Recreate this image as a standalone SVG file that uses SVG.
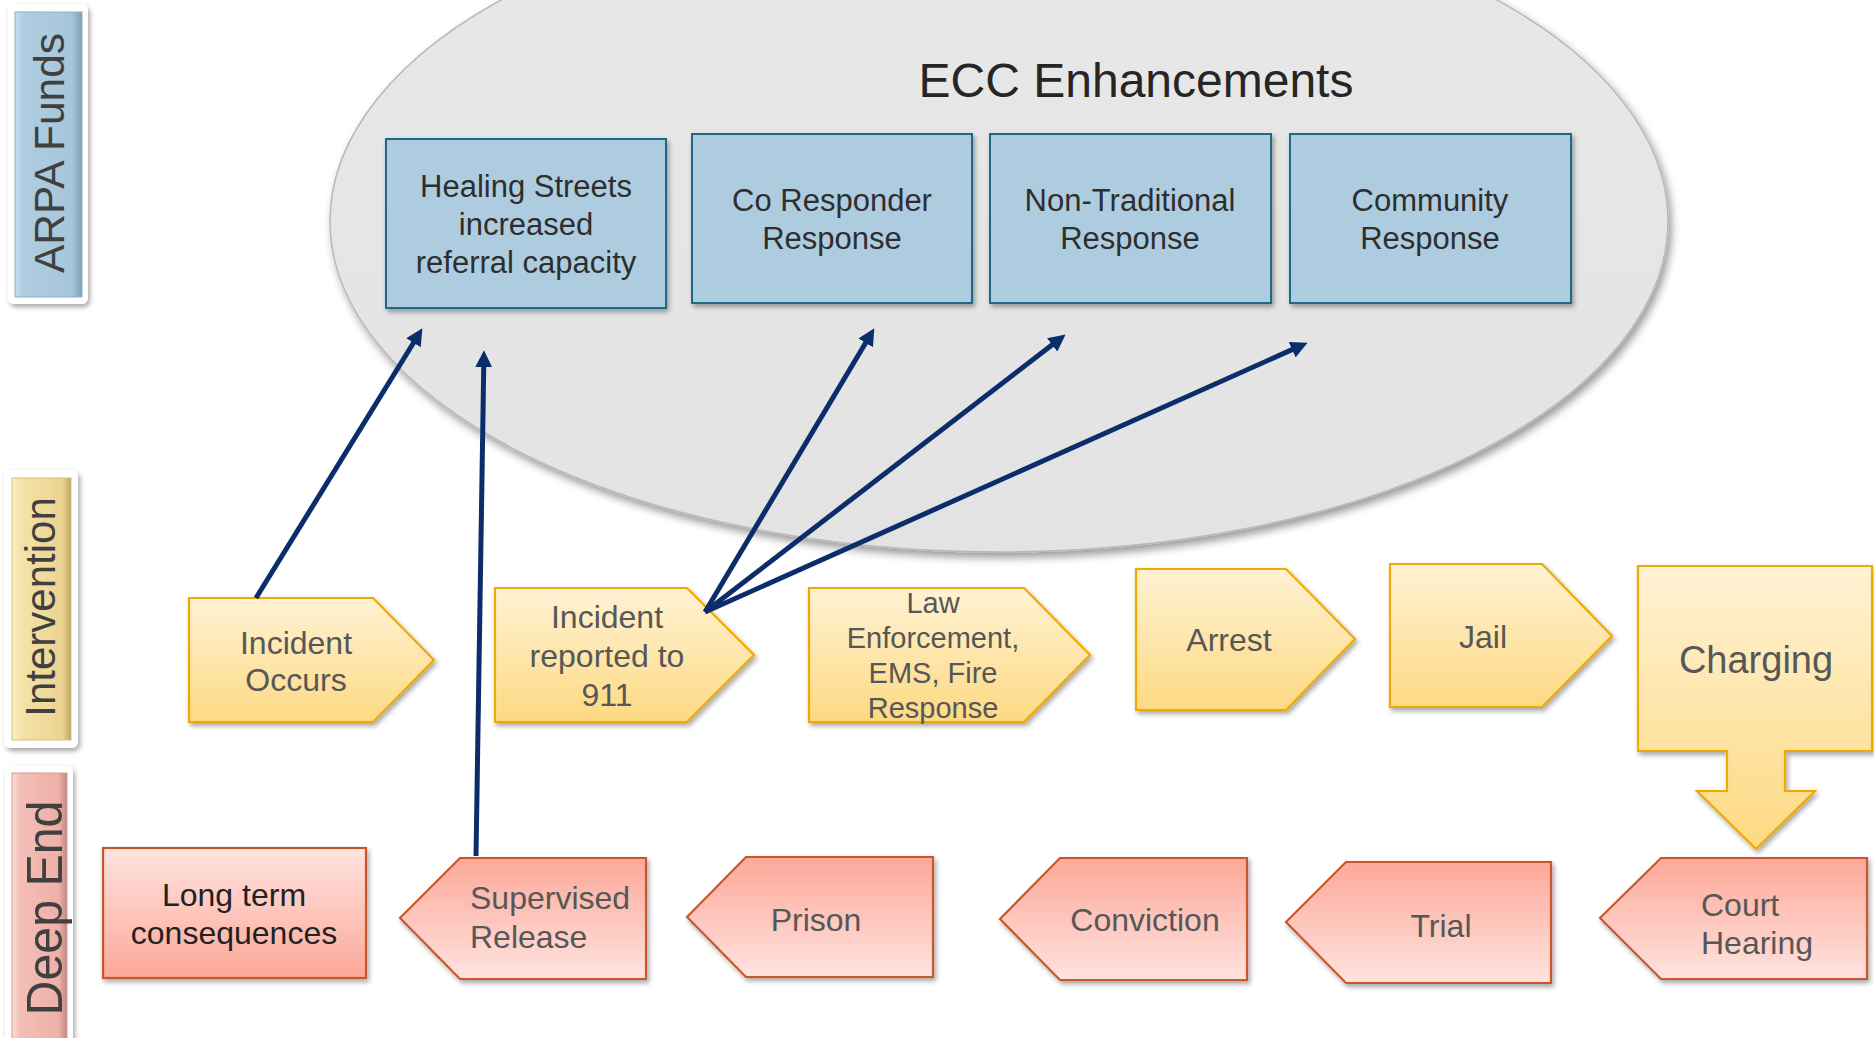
<svg xmlns="http://www.w3.org/2000/svg" width="1874" height="1038" viewBox="0 0 1874 1038">
<defs>
  <filter id="sh" x="-10%" y="-10%" width="130%" height="130%">
    <feDropShadow dx="2" dy="3" stdDeviation="2.5" flood-color="#000" flood-opacity="0.35"/>
  </filter>
  <filter id="shE" x="-5%" y="-5%" width="112%" height="120%">
    <feDropShadow dx="3" dy="5" stdDeviation="4" flood-color="#000" flood-opacity="0.4"/>
  </filter>
  <linearGradient id="gY" x1="0" y1="0" x2="0" y2="1">
    <stop offset="0" stop-color="#fff2d4"/>
    <stop offset="1" stop-color="#fdd982"/>
  </linearGradient>
  <linearGradient id="gRup" x1="0" y1="0" x2="0" y2="1">
    <stop offset="0" stop-color="#fca899"/>
    <stop offset="1" stop-color="#ffe3df"/>
  </linearGradient>
  <linearGradient id="gRdn" x1="0" y1="0" x2="0" y2="1">
    <stop offset="0" stop-color="#ffe3df"/>
    <stop offset="1" stop-color="#fca899"/>
  </linearGradient>
  <linearGradient id="gEll" x1="0" y1="0" x2="0" y2="1">
    <stop offset="0" stop-color="#e8e8e8"/>
    <stop offset="1" stop-color="#e3e3e3"/>
  </linearGradient>
  <linearGradient id="bB" x1="0" y1="0" x2="1" y2="0">
    <stop offset="0" stop-color="#c6e0f0"/>
    <stop offset="0.12" stop-color="#aecde0"/>
    <stop offset="0.85" stop-color="#a7c6da"/>
    <stop offset="1" stop-color="#7c9fb4"/>
  </linearGradient>
  <linearGradient id="bY" x1="0" y1="0" x2="1" y2="0">
    <stop offset="0" stop-color="#fbefc6"/>
    <stop offset="0.15" stop-color="#f5e2a6"/>
    <stop offset="0.85" stop-color="#ecd492"/>
    <stop offset="1" stop-color="#bfa465"/>
  </linearGradient>
  <linearGradient id="bR" x1="0" y1="0" x2="1" y2="0">
    <stop offset="0" stop-color="#fbdcd7"/>
    <stop offset="0.15" stop-color="#f4bfb7"/>
    <stop offset="0.85" stop-color="#eeb0a8"/>
    <stop offset="1" stop-color="#c28680"/>
  </linearGradient>
  <marker id="ah" viewBox="0 0 16 16" markerWidth="17" markerHeight="17" markerUnits="userSpaceOnUse" refX="4" refY="8" orient="auto">
    <path d="M0,0 L16,8 L0,16 Z" fill="#0b2e6b"/>
  </marker>
  <style>
    text { font-family: "Liberation Sans", Arial, sans-serif; }
    .lane-out { fill: #ffffff; filter: url(#sh); }
    .lane-txt { font-size: 42px; fill: #404040; text-anchor: middle; }
    .blue { fill: #aecce0; stroke: #1a6a86; stroke-width: 2; filter: url(#sh); }
    .btxt { font-size: 31px; fill: #2e2e2e; text-anchor: middle; }
    .yel { fill: url(#gY); stroke: #f0a900; stroke-width: 2.2; filter: url(#sh); }
    .ytxt { font-size: 32px; fill: #575757; text-anchor: middle; }
    .red-l { fill: url(#gRup); stroke: #c8582a; stroke-width: 2.2; filter: url(#sh); }
    .red-r { fill: url(#gRdn); stroke: #c8582a; stroke-width: 2.2; filter: url(#sh); }
    .rtxt { font-size: 32px; fill: #575757; }
    .conn line { stroke: #0b2e6b; stroke-width: 5; marker-end: url(#ah); }
  </style>
</defs>
<rect width="1874" height="1038" fill="#ffffff"/>

<!-- Lane labels -->
<g id="lane-arpa">
  <rect class="lane-out" x="8" y="4" width="80" height="300" rx="6"/>
  <rect x="15" y="12" width="67" height="285" fill="url(#bB)" stroke="#8fb0c4" stroke-width="1"/>
  <text class="lane-txt" transform="translate(64,153) rotate(-90)" textLength="240" lengthAdjust="spacingAndGlyphs" style="font-size:43px">ARPA Funds</text>
</g>
<g id="lane-intervention">
  <rect class="lane-out" x="4" y="470" width="74" height="278" rx="6"/>
  <rect x="12" y="478" width="59" height="262" fill="url(#bY)" stroke="#d6be7e" stroke-width="1"/>
  <text class="lane-txt" transform="translate(55,607) rotate(-90)">Intervention</text>
</g>
<g id="lane-deepend">
  <rect class="lane-out" x="5" y="766" width="68" height="290" rx="6"/>
  <rect x="12" y="773" width="55" height="280" fill="url(#bR)" stroke="#d39a93" stroke-width="1"/>
  <text class="lane-txt" transform="translate(62,908) rotate(-90)" textLength="215" lengthAdjust="spacingAndGlyphs" style="font-size:50px">Deep End</text>
</g>

<!-- ECC Enhancements ellipse -->
<g id="ecc">
  <ellipse cx="999" cy="221" rx="669" ry="331" fill="url(#gEll)" stroke="#b8b8b8" stroke-width="1.5" filter="url(#shE)"/>
  <text x="1136" y="97" font-size="48" fill="#262626" text-anchor="middle">ECC Enhancements</text>
</g>

<!-- Blue boxes -->
<g id="healing-streets">
  <rect class="blue" x="386" y="139" width="280" height="169"/>
  <text class="btxt" x="526" y="197">Healing Streets</text>
  <text class="btxt" x="526" y="235">increased</text>
  <text class="btxt" x="526" y="273">referral capacity</text>
</g>
<g id="co-responder">
  <rect class="blue" x="692" y="134" width="280" height="169"/>
  <text class="btxt" x="832" y="211">Co Responder</text>
  <text class="btxt" x="832" y="249">Response</text>
</g>
<g id="non-traditional">
  <rect class="blue" x="990" y="134" width="281" height="169"/>
  <text class="btxt" x="1130" y="211">Non-Traditional</text>
  <text class="btxt" x="1130" y="249">Response</text>
</g>
<g id="community">
  <rect class="blue" x="1290" y="134" width="281" height="169"/>
  <text class="btxt" x="1430" y="211">Community</text>
  <text class="btxt" x="1430" y="249">Response</text>
</g>

<!-- Intervention row -->
<g id="incident-occurs">
  <polygon class="yel" points="189,598 373,598 434,660 373,722 189,722"/>
  <text class="ytxt" x="296" y="654">Incident</text>
  <text class="ytxt" x="296" y="691">Occurs</text>
</g>
<g id="incident-reported">
  <polygon class="yel" points="495,588 687,588 754,655 687,722 495,722"/>
  <text class="ytxt" x="607" y="628">Incident</text>
  <text class="ytxt" x="607" y="667">reported to</text>
  <text class="ytxt" x="607" y="706">911</text>
</g>
<g id="law-enforcement">
  <polygon class="yel" points="809,588 1024,588 1090,655 1024,722 809,722"/>
  <text class="ytxt" x="933" y="613" style="font-size:29px">Law</text>
  <text class="ytxt" x="933" y="648" style="font-size:29px">Enforcement,</text>
  <text class="ytxt" x="933" y="683" style="font-size:29px">EMS, Fire</text>
  <text class="ytxt" x="933" y="718" style="font-size:29px">Response</text>
</g>
<g id="arrest">
  <polygon class="yel" points="1136,569 1286,569 1355,639 1286,710 1136,710"/>
  <text class="ytxt" x="1229" y="651">Arrest</text>
</g>
<g id="jail">
  <polygon class="yel" points="1390,564 1542,564 1612,636 1542,707 1390,707"/>
  <text class="ytxt" x="1483" y="648">Jail</text>
</g>
<g id="charging">
  <path class="yel" d="M1638,566 H1872 V751 H1785 V791 H1815 L1756,849 L1697,791 H1727 V751 H1638 Z"/>
  <text class="ytxt" x="1756" y="673" style="font-size:38px">Charging</text>
</g>

<!-- Deep End row -->
<g id="long-term">
  <rect class="red-r" x="103" y="848" width="263" height="130"/>
  <text class="rtxt" x="234" y="906" text-anchor="middle" style="fill:#222222">Long term</text>
  <text class="rtxt" x="234" y="944" text-anchor="middle" style="fill:#222222">consequences</text>
</g>
<g id="supervised-release">
  <polygon class="red-l" points="400,918 460,858 646,858 646,979 460,979"/>
  <text class="rtxt" x="470" y="909">Supervised</text>
  <text class="rtxt" x="470" y="948">Release</text>
</g>
<g id="prison">
  <polygon class="red-l" points="687,917 746,857 933,857 933,977 746,977"/>
  <text class="rtxt" x="816" y="931" text-anchor="middle">Prison</text>
</g>
<g id="conviction">
  <polygon class="red-l" points="1000,919 1060,858 1247,858 1247,980 1060,980"/>
  <text class="rtxt" x="1145" y="931" text-anchor="middle">Conviction</text>
</g>
<g id="trial">
  <polygon class="red-l" points="1286,922 1346,862 1551,862 1551,983 1346,983"/>
  <text class="rtxt" x="1441" y="937" text-anchor="middle">Trial</text>
</g>
<g id="court-hearing">
  <polygon class="red-l" points="1600,918 1661,858 1867,858 1867,979 1661,979"/>
  <text class="rtxt" x="1701" y="916">Court</text>
  <text class="rtxt" x="1701" y="954">Hearing</text>
</g>

<!-- Connectors -->
<g id="connectors" class="conn">
  <line x1="256" y1="598" x2="415.7" y2="339.2"/>
  <line x1="476" y1="856" x2="483.8" y2="363"/>
  <line x1="705" y1="612" x2="867.8" y2="339.3"/>
  <line x1="705" y1="612" x2="1055.5" y2="342.3"/>
  <line x1="705" y1="612" x2="1296" y2="347.9"/>
</g>
</svg>
